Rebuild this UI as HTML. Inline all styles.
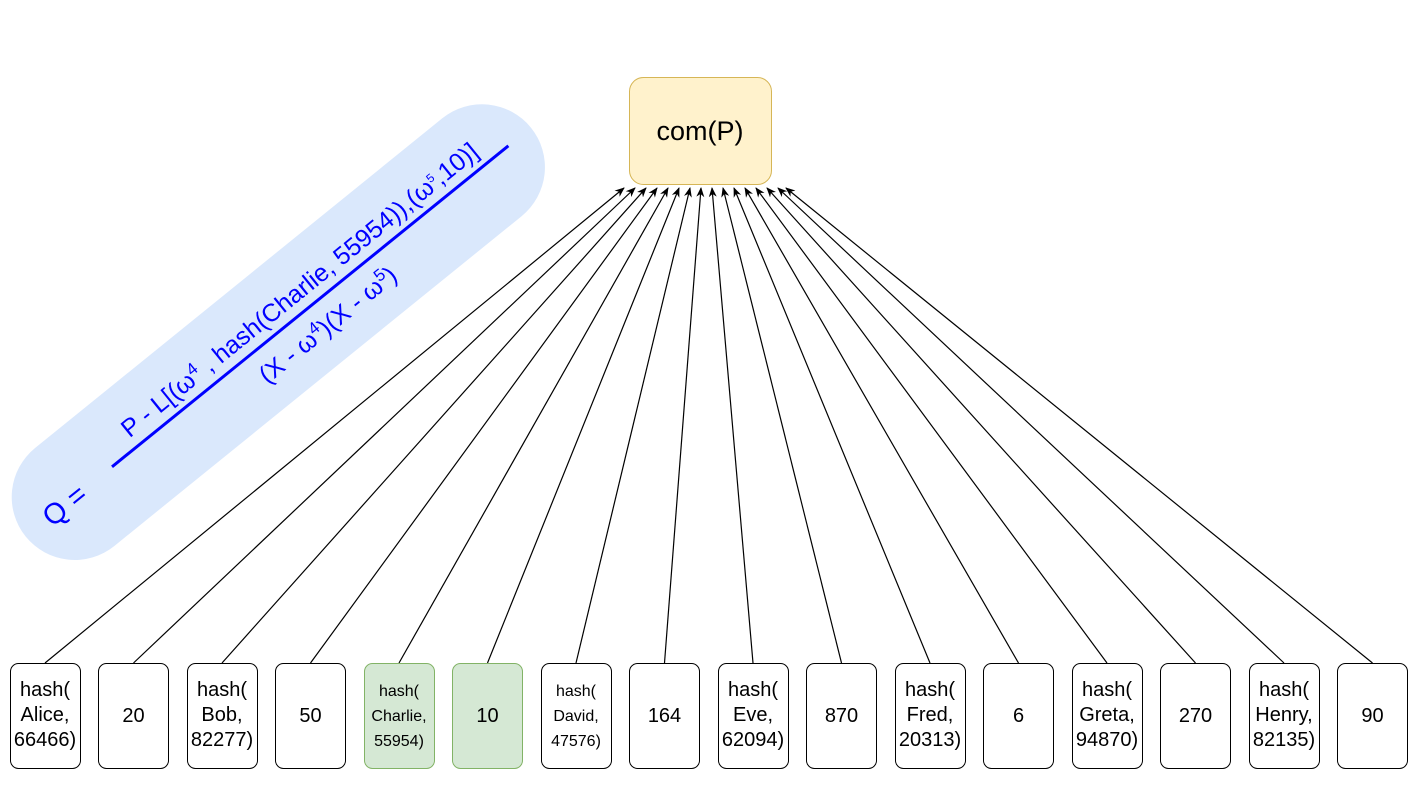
<!DOCTYPE html>
<html><head><meta charset="utf-8"><style>body{margin:0;background:#fff}</style></head><body>
<svg width="1422" height="802" xmlns="http://www.w3.org/2000/svg" font-family="Liberation Sans, sans-serif">
<defs><marker id="a" markerWidth="10" markerHeight="8" refX="9" refY="4" orient="auto" markerUnits="userSpaceOnUse"><path d="M0,0 L10,4 L0,8 L3,4 z" fill="#000"/></marker></defs>
<g transform="translate(276,334) rotate(-39)">
<rect x="-322" y="-63" width="650" height="126" rx="63" fill="#dae8fc"/>
<line x1="-211" y1="0" x2="299" y2="0" stroke="#0000ff" stroke-width="3"/>
<text x="-272" y="10" font-size="29" fill="#0000ff" text-anchor="middle">Q =</text>
<text x="46" y="-11" font-size="25" fill="#0000ff" text-anchor="middle">P - L[(ω<tspan font-size="17" dy="-9">4</tspan><tspan dy="9"> , hash(Charlie, 55954)),(ω</tspan><tspan font-size="12" dy="-9">5</tspan><tspan dy="9">,10)]</tspan></text>
<text x="46" y="34" font-size="25" fill="#0000ff" text-anchor="middle">(X - ω<tspan font-size="17" dy="-9">4</tspan><tspan dy="9">)(X - ω</tspan><tspan font-size="17" dy="-9">5</tspan><tspan dy="9">)</tspan></text>
</g>
<rect x="629.5" y="77.5" width="142" height="107" rx="14" fill="#fff2cc" stroke="#d6b656"/>
<text x="700" y="140" font-size="27" text-anchor="middle">com(P)</text>
<g stroke="#000" stroke-width="1.2" marker-end="url(#a)">
<line x1="45" y1="663" x2="624" y2="188"/>
<line x1="133.5" y1="663" x2="635" y2="188"/>
<line x1="222" y1="663" x2="646" y2="188"/>
<line x1="310.5" y1="663" x2="657" y2="188"/>
<line x1="399" y1="663" x2="668" y2="188"/>
<line x1="487.5" y1="663" x2="679" y2="188"/>
<line x1="576" y1="663" x2="690" y2="188"/>
<line x1="664.5" y1="663" x2="701" y2="188"/>
<line x1="753" y1="663" x2="712" y2="188"/>
<line x1="841.5" y1="663" x2="723" y2="188"/>
<line x1="930" y1="663" x2="734" y2="188"/>
<line x1="1018.5" y1="663" x2="745" y2="188"/>
<line x1="1107" y1="663" x2="756" y2="188"/>
<line x1="1195.5" y1="663" x2="767" y2="188"/>
<line x1="1284" y1="663" x2="778" y2="188"/>
<line x1="1372.5" y1="663" x2="786" y2="188"/>
</g>
<g font-size="20" text-anchor="middle">
<rect x="10.5" y="663.5" width="70" height="105" rx="8" fill="#fff" stroke="#000"/>
<text x="45" y="696">hash(</text><text x="45" y="721">Alice,</text><text x="45" y="746">66466)</text>
<rect x="98.5" y="663.5" width="70" height="105" rx="8" fill="#fff" stroke="#000"/>
<text x="133.5" y="722">20</text>
<rect x="187.5" y="663.5" width="70" height="105" rx="8" fill="#fff" stroke="#000"/>
<text x="222" y="696">hash(</text><text x="222" y="721">Bob,</text><text x="222" y="746">82277)</text>
<rect x="275.5" y="663.5" width="70" height="105" rx="8" fill="#fff" stroke="#000"/>
<text x="310.5" y="722">50</text>
<rect x="364.5" y="663.5" width="70" height="105" rx="8" fill="#d5e8d4" stroke="#82b366"/>
<g font-size="16"><text x="399" y="696">hash(</text><text x="399" y="721">Charlie,</text><text x="399" y="746">55954)</text></g>
<rect x="452.5" y="663.5" width="70" height="105" rx="8" fill="#d5e8d4" stroke="#82b366"/>
<text x="487.5" y="722">10</text>
<rect x="541.5" y="663.5" width="70" height="105" rx="8" fill="#fff" stroke="#000"/>
<g font-size="16"><text x="576" y="696">hash(</text><text x="576" y="721">David,</text><text x="576" y="746">47576)</text></g>
<rect x="629.5" y="663.5" width="70" height="105" rx="8" fill="#fff" stroke="#000"/>
<text x="664.5" y="722">164</text>
<rect x="718.5" y="663.5" width="70" height="105" rx="8" fill="#fff" stroke="#000"/>
<text x="753" y="696">hash(</text><text x="753" y="721">Eve,</text><text x="753" y="746">62094)</text>
<rect x="806.5" y="663.5" width="70" height="105" rx="8" fill="#fff" stroke="#000"/>
<text x="841.5" y="722">870</text>
<rect x="895.5" y="663.5" width="70" height="105" rx="8" fill="#fff" stroke="#000"/>
<text x="930" y="696">hash(</text><text x="930" y="721">Fred,</text><text x="930" y="746">20313)</text>
<rect x="983.5" y="663.5" width="70" height="105" rx="8" fill="#fff" stroke="#000"/>
<text x="1018.5" y="722">6</text>
<rect x="1072.5" y="663.5" width="70" height="105" rx="8" fill="#fff" stroke="#000"/>
<text x="1107" y="696">hash(</text><text x="1107" y="721">Greta,</text><text x="1107" y="746">94870)</text>
<rect x="1160.5" y="663.5" width="70" height="105" rx="8" fill="#fff" stroke="#000"/>
<text x="1195.5" y="722">270</text>
<rect x="1249.5" y="663.5" width="70" height="105" rx="8" fill="#fff" stroke="#000"/>
<text x="1284" y="696">hash(</text><text x="1284" y="721">Henry,</text><text x="1284" y="746">82135)</text>
<rect x="1337.5" y="663.5" width="70" height="105" rx="8" fill="#fff" stroke="#000"/>
<text x="1372.5" y="722">90</text>
</g>
</svg>
</body></html>
